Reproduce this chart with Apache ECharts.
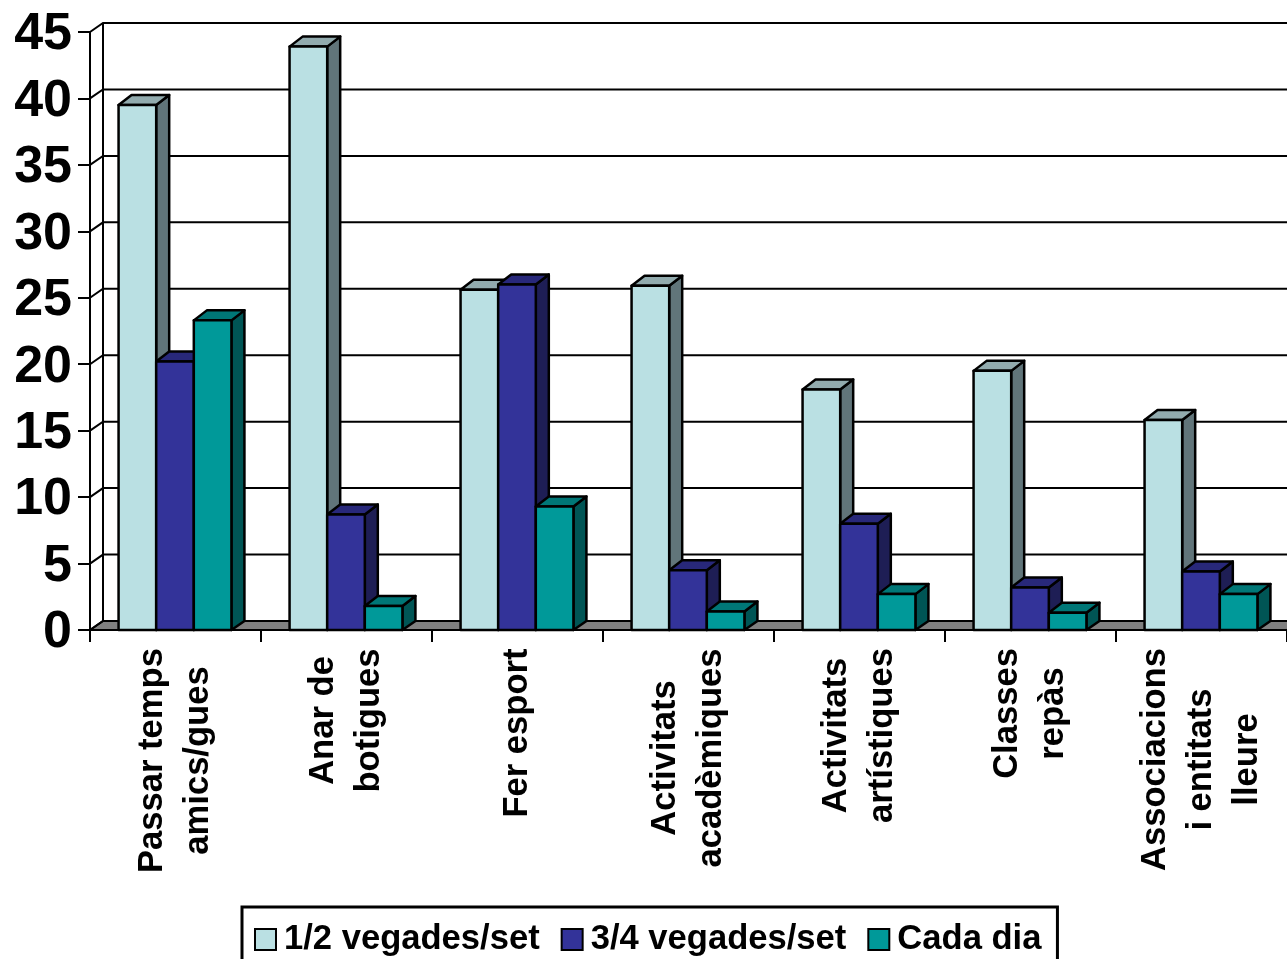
<!DOCTYPE html>
<html><head><meta charset="utf-8">
<style>html,body{margin:0;padding:0;background:#fff;overflow:hidden}#c{width:1287px;height:959px}</style>
<script src="https://cdn.jsdelivr.net/npm/echarts@6/dist/echarts.min.js"></script>
</head><body><div id="c"></div>
<script>
const categories = ["Passar temps\namics/gues","Anar de\nbotigues","Fer esport","Activitats\nacadèmiques","Activitats\nartístiques","Classes\nrepàs","Associacions\ni entitats\nlleure"];
const seriesNames = ["1/2 vegades/set","3/4 vegades/set","Cada dia"];
const valuesA = [39.5,43.9,25.6,25.9,18.1,19.5,15.8];
const valuesB = [20.2,8.7,26.0,4.5,8.0,3.2,4.4];
const valuesC = [23.3,1.8,9.3,1.4,2.7,1.3,2.7];
const yTicks = [0,5,10,15,20,25,30,35,40,45];

const palette = [
  {front:'#BAE0E3',top:'#92ABAE',side:'#61757A'},
  {front:'#333399',top:'#28287A',side:'#1E1E55'},
  {front:'#009999',top:'#007777',side:'#005555'}
];
const DX = 13, DY = -9, BAR_DY = -10, FS = 34.6, FAMILY = '"Liberation Sans", Arial, sans-serif';
const stroke = {stroke:'#000',lineWidth:2.5,lineJoin:'round'};

const ctx = document.createElement('canvas').getContext('2d');
ctx.font = 'bold ' + FS + 'px ' + FAMILY;
const rich = {};
const labelByCat = {};
categories.forEach((c,i)=>{
  const lines = c.split('\n');
  const w = Math.ceil(Math.max(...lines.map(l=>ctx.measureText(l).width)));
  rich['c'+i] = {width:w,align:'center',fontSize:FS,fontWeight:'bold',fontFamily:FAMILY,color:'#000',lineHeight:46};
  labelByCat[c] = lines.map(l=>'{c'+i+'|'+l+'}').join('\n');
});

function wallItem(params, api){
  const cs = params.coordSys;
  const p = api.coord([0, api.value(1)]);
  const y = p[1], x0 = cs.x, x1 = cs.x + cs.width + DX;
  const children = [];
  if (api.value(1) === yTicks[0]) {
    children.push({type:'polygon',shape:{points:[[x0,y],[x0+DX,y+DY],[x1,y+DY],[x1-DX,y]]},style:{fill:'#808080',stroke:'#000',lineWidth:2}});
    const top = api.coord([0, yTicks[yTicks.length-1]])[1];
    children.push({type:'line',shape:{x1:x0+DX,y1:y+DY,x2:x0+DX,y2:top+DY},style:{stroke:'#000',lineWidth:2}});
  }
  children.push({type:'polyline',shape:{points:[[x0,y],[x0+DX,y+DY],[x1,y+DY]]},style:{stroke:'#000',lineWidth:2,fill:null}});
  return {type:'group',children};
}

function barRender(k){
  return function(params, api){
    const c = palette[k];
    const base = api.coord([api.value(0),0]);
    const topPt = api.coord([api.value(0),api.value(1)]);
    const bw = api.size([1,0])[0]*0.22;
    const xl = base[0] + (k-1.5)*bw - 0.5, xr = xl + bw, yb = base[1], yt = topPt[1];
    return {type:'group',children:[
      {type:'polygon',shape:{points:[[xr,yb],[xr+DX,yb+DY],[xr+DX,yt+BAR_DY],[xr,yt]]},style:Object.assign({fill:c.side},stroke)},
      {type:'polygon',shape:{points:[[xl,yt],[xl+DX,yt+BAR_DY],[xr+DX,yt+BAR_DY],[xr,yt]]},style:Object.assign({fill:c.top},stroke)},
      {type:'rect',shape:{x:xl,y:yt,width:bw,height:yb-yt},style:Object.assign({fill:c.front},stroke)}
    ]};
  };
}

const allValues = [valuesA,valuesB,valuesC];
const chart = echarts.init(document.getElementById('c'),null,{renderer:'canvas'});
chart.setOption({
  animation:false,
  backgroundColor:'#fff',
  grid:{left:90,right:0,top:32,bottom:329},
  legend:{
    data:seriesNames.map(n=>({name:n,icon:'rect'})),left:242,top:907,orient:'horizontal',
    itemWidth:21,itemHeight:21,itemGap:21,
    padding:[15,16,10,12],
    backgroundColor:'#fff',borderColor:'#000',borderWidth:3,borderRadius:0,
    selectedMode:false,
    textStyle:{fontSize:FS,fontWeight:'bold',fontFamily:FAMILY,color:'#000',padding:[0,0,0,3]}
  },
  xAxis:{
    type:'category',data:categories,
    axisLine:{lineStyle:{color:'#000',width:2}},
    axisTick:{show:true,length:12,alignWithLabel:false,lineStyle:{color:'#000',width:2}},
    splitLine:{show:false},
    axisLabel:{interval:0,rotate:90,align:'right',verticalAlign:'middle',margin:18,hideOverlap:false,
      padding:[0,0,1,0],formatter:v=>labelByCat[v],rich:rich}
  },
  yAxis:{
    type:'value',min:0,max:45,interval:5,
    axisLine:{show:true,lineStyle:{color:'#000',width:2}},
    axisTick:{show:true,length:12,lineStyle:{color:'#000',width:2}},
    splitLine:{show:false},
    axisLabel:{margin:18,formatter:'{t|{value}}',
      rich:{t:{fontSize:52,fontWeight:'bold',fontFamily:FAMILY,color:'#000',padding:[6,0,0,0]}}}
  },
  series:[
    {type:'custom',name:'wall',silent:true,clip:false,z:1,renderItem:wallItem,data:yTicks.map(t=>[0,t]),encode:{x:0,y:1}}
  ].concat(seriesNames.map((n,k)=>({
    type:'custom',name:n,silent:true,clip:false,z:2+k,
    itemStyle:{color:palette[k].front,borderColor:'#000',borderWidth:2},
    renderItem:barRender(k),
    data:allValues[k].map((v,i)=>[i,v]),encode:{x:0,y:1}
  })))
});
</script></body></html>
